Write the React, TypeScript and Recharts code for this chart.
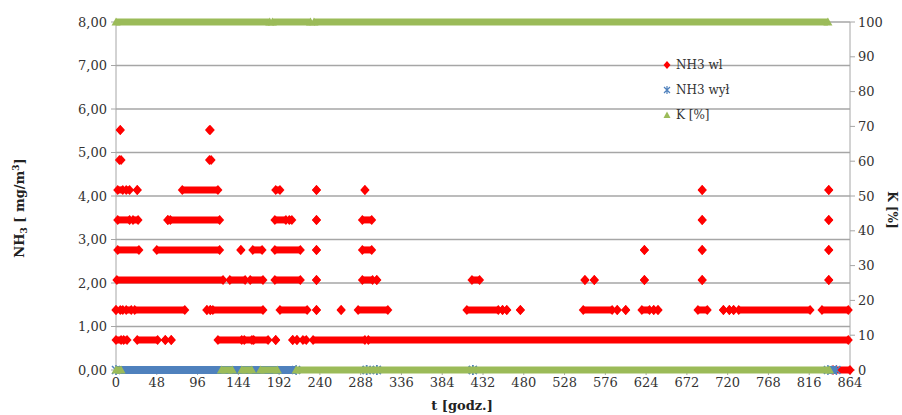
import { ComposedChart, Scatter, XAxis, YAxis, CartesianGrid, Legend } from "recharts";

// each run: [start hour, end hour, value]; a single reading has start === end
type Run = [number, number, number];

const hourTicks = [0, 48, 96, 144, 192, 240, 288, 336, 384, 432, 480, 528, 576, 624, 672, 720, 768, 816, 864];
const nh3Ticks = [0, 1, 2, 3, 4, 5, 6, 7, 8];
const kTicks = [0, 10, 20, 30, 40, 50, 60, 70, 80, 90, 100];

const nh3WlRuns: Run[] = [
  [5, 5, 5.52], [110, 111, 5.52],
  [4, 6, 4.83], [110, 112, 4.83],
  [2, 8, 4.14], [12, 16, 4.14], [25, 25, 4.14], [78, 120, 4.14], [188, 193, 4.14], [236, 236, 4.14],
  [293, 293, 4.14], [690, 690, 4.14], [839, 839, 4.14],
  [2, 16, 3.45], [20, 26, 3.45], [61, 61, 3.45], [64, 122, 3.45], [187, 200, 3.45], [204, 207, 3.45],
  [236, 236, 3.45], [290, 301, 3.45], [690, 690, 3.45], [839, 839, 3.45],
  [2, 27, 2.76], [48, 122, 2.76], [147, 147, 2.76], [161, 172, 2.76], [187, 217, 2.76], [236, 236, 2.76],
  [290, 301, 2.76], [622, 622, 2.76], [690, 690, 2.76], [839, 839, 2.76],
  [1, 126, 2.07], [134, 152, 2.07], [158, 173, 2.07], [187, 217, 2.07], [236, 236, 2.07], [290, 302, 2.07],
  [307, 307, 2.07], [419, 428, 2.07], [552, 552, 2.07], [563, 563, 2.07], [622, 622, 2.07], [690, 690, 2.07],
  [839, 839, 2.07],
  [0, 0, 1.38], [5, 8, 1.38], [12, 18, 1.38], [22, 81, 1.38], [107, 107, 1.38], [111, 111, 1.38],
  [114, 173, 1.38], [193, 225, 1.38], [236, 236, 1.38], [265, 265, 1.38], [285, 320, 1.38], [413, 450, 1.38],
  [455, 455, 1.38], [460, 460, 1.38], [476, 476, 1.38], [550, 584, 1.38], [590, 590, 1.38], [600, 600, 1.38],
  [619, 628, 1.38], [633, 633, 1.38], [638, 638, 1.38], [685, 696, 1.38], [715, 715, 1.38], [722, 722, 1.38],
  [727, 727, 1.38], [733, 817, 1.38], [831, 862, 1.38],
  [0, 6, 0.69], [9, 13, 0.69], [25, 49, 0.69], [58, 58, 0.69], [65, 65, 0.69], [120, 148, 0.69],
  [151, 160, 0.69], [162, 179, 0.69], [188, 188, 0.69], [208, 208, 0.69], [213, 213, 0.69], [220, 224, 0.69],
  [232, 293, 0.69], [297, 862, 0.69],
  [844, 864, 0],
];

const nh3WylRuns: Run[] = [
  [0, 212, 0], [295, 295, 0], [307, 307, 0], [420, 420, 0], [838, 848, 0],
];

const kRuns: Run[] = [
  [0, 181, 100], [184, 229, 100], [233, 838, 100],
  [0, 6, 0], [124, 137, 0], [148, 160, 0], [170, 190, 0], [212, 840, 0],
];

const RED = "#ff0000";
const BLUE = "#4f81bd";
const GREEN = "#9bbb59";
const FONT = "DejaVu Serif";

const diamond = (color: string) => (p: any) => (
  <path d={`M${p.cx},${p.cy - 5}L${p.cx + 4.5},${p.cy}L${p.cx},${p.cy + 5}L${p.cx - 4.5},${p.cy}Z`} fill={color} />
);
const triangle = (color: string) => (p: any) => (
  <path d={`M${p.cx},${p.cy - 4.5}L${p.cx + 4.5},${p.cy + 3.5}L${p.cx - 4.5},${p.cy + 3.5}Z`} fill={color} />
);
const star = (color: string) => (p: any) => (
  <path
    d={`M${p.cx - 4},${p.cy - 4}L${p.cx + 4},${p.cy + 4}M${p.cx - 4},${p.cy + 4}L${p.cx + 4},${p.cy - 4}M${p.cx},${p.cy - 5}L${p.cx},${p.cy + 5}`}
    stroke={color}
    strokeWidth={1.5}
  />
);

function runSeries(runs: Run[], name: string, color: string, shape: any, yAxisId: string, width: number) {
  return runs.map(([s, e, v], i) => (
    <Scatter
      key={name + i}
      name={name}
      yAxisId={yAxisId}
      data={[{ t: s, v }, { t: e, v }]}
      fill={color}
      shape={shape}
      line={s !== e ? { stroke: color, strokeWidth: width } : false}
      lineType="joint"
      legendType="none"
      isAnimationActive={false}
    />
  ));
}

const legendItems = [
  { label: "NH3 wl", color: RED, kind: "diamond" },
  { label: "NH3 wył", color: BLUE, kind: "star" },
  { label: "K [%]", color: GREEN, kind: "triangle" },
];

function LegendBox() {
  return (
    <div style={{ fontFamily: FONT, fontSize: 12, color: "#333" }}>
      {legendItems.map((it) => (
        <div key={it.label} style={{ display: "flex", alignItems: "center", height: 25 }}>
          <svg width={10} height={10} style={{ marginRight: 4 }}>
            {it.kind === "diamond" && <path d="M5,1L8.5,5L5,9L1.5,5Z" fill={it.color} />}
            {it.kind === "star" && (
              <path d="M2,2L8,8M2,8L8,2M5,1L5,9" stroke={it.color} strokeWidth={1.2} />
            )}
            {it.kind === "triangle" && <path d="M5,1.5L8.5,8L1.5,8Z" fill={it.color} />}
          </svg>
          <span>{it.label}</span>
        </div>
      ))}
    </div>
  );
}

const tickStyle = { fontFamily: FONT, fontSize: 13, fill: "#333" };
const comma = (v: number) => v.toFixed(2).replace(".", ",");

export default function App() {
  return (
    <div style={{ position: "absolute", left: 0, top: 0, background: "#fff" }}>
      <ComposedChart width={902} height={415} margin={{ top: 22, right: 0, bottom: 0, left: 0 }}>
        <CartesianGrid yAxisId="nh3" vertical={false} stroke="#a6a6a6" strokeWidth={1.3} />
        <XAxis
          dataKey="t"
          type="number"
          domain={[0, 864]}
          ticks={hourTicks}
          height={45}
          tick={tickStyle}
          tickSize={5}
          tickMargin={3}
          stroke="#a6a6a6"
          interval={0}
          label={{
            content: (p: any) => (
              <text
                x={p.viewBox.x + p.viewBox.width / 2 - 21}
                y={p.viewBox.y + 40}
                textAnchor="middle"
                fontFamily={FONT}
                fontWeight="bold"
                fontSize={13}
                fill="#222"
              >
                t [godz.]
              </text>
            ),
          }}
        />
        <YAxis
          yAxisId="nh3"
          dataKey="v"
          type="number"
          domain={[0, 8]}
          ticks={nh3Ticks}
          width={116}
          tick={tickStyle}
          tickFormatter={comma}
          tickSize={5}
          tickMargin={4}
          stroke="#a6a6a6"
          interval={0}
          label={{
            content: (p: any) => (
              <text
                transform={`translate(${p.viewBox.x + 24},${p.viewBox.y + p.viewBox.height / 2 + 12}) rotate(-90)`}
                textAnchor="middle"
                fontFamily={FONT}
                fontWeight="bold"
                fontSize={13}
                fill="#222"
              >
                NH
                <tspan dy={3} fontSize={9}>3</tspan>
                <tspan dy={-3}> [ mg/m</tspan>
                <tspan dy={-5} fontSize={9}>3</tspan>
                <tspan dy={5}>]</tspan>
              </text>
            ),
          }}
        />
        <YAxis
          yAxisId="k"
          orientation="right"
          dataKey="v"
          type="number"
          domain={[0, 100]}
          ticks={kTicks}
          width={52}
          tick={tickStyle}
          tickSize={5}
          tickMargin={3}
          stroke="#a6a6a6"
          interval={0}
          label={{
            content: (p: any) => (
              <text
                transform={`translate(${p.viewBox.x + 38},${p.viewBox.y + p.viewBox.height / 2 + 14}) rotate(90)`}
                textAnchor="middle"
                fontFamily={FONT}
                fontWeight="bold"
                fontSize={12}
                fill="#222"
              >
                K [%]
              </text>
            ),
          }}
        />
        {runSeries(nh3WlRuns, "NH3 wl", RED, diamond(RED), "nh3", 7)}
        {runSeries(nh3WylRuns, "NH3 wył", BLUE, star(BLUE), "nh3", 8)}
        {runSeries(kRuns, "K [%]", GREEN, triangle(GREEN), "k", 7)}
        <Legend
          layout="vertical"
          align="center"
          verticalAlign="middle"
          wrapperStyle={{ left: 662, top: 52, width: 120, height: 80 }}
          content={() => <LegendBox />}
        />
      </ComposedChart>
    </div>
  );
}
